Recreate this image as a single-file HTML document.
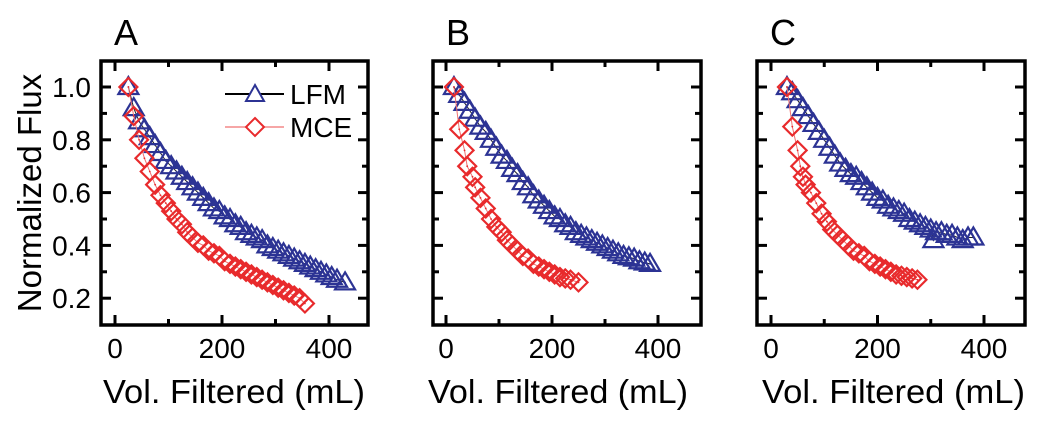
<!DOCTYPE html>
<html><head><meta charset="utf-8"><style>
html,body{margin:0;padding:0;background:#fff;}
svg{display:block;font-family:"Liberation Sans",Arial,sans-serif;}
</style></head><body>
<svg id="chart" width="1059" height="431" viewBox="0 0 1059 431" xmlns="http://www.w3.org/2000/svg">
<text x="0" y="0" transform="translate(41,193) rotate(-90)" text-anchor="middle" font-size="33">Normalized Flux</text>
</svg>
<script>
const xTicks=[0,200,400];
const yTicks=[0.2,0.4,0.6,0.8,1.0];
const yTickLabels=["0.2","0.4","0.6","0.8","1.0"];
const panelLetters=["A","B","C"];
const aLfmX=[25,35,45,55,65,75,85,95,105,115,125,135,145,155,165,175,185,195,205,215,225,235,245,255,265,275,285,295,305,315,325,335,345,355,365,375,385,395,405,415,430];
const aLfmY=[1.0,0.92,0.87,0.84,0.81,0.78,0.75,0.72,0.70,0.68,0.66,0.64,0.62,0.60,0.58,0.56,0.54,0.53,0.51,0.50,0.48,0.47,0.45,0.44,0.43,0.42,0.40,0.39,0.38,0.37,0.36,0.35,0.34,0.33,0.32,0.31,0.30,0.29,0.28,0.27,0.26];
const aMceX=[25,35,45,55,65,75,85,95,105,115,125,135,145,155,165,175,185,195,205,215,225,235,245,255,265,275,285,295,305,315,325,335,345,355];
const aMceY=[1.0,0.89,0.80,0.73,0.68,0.63,0.59,0.56,0.53,0.50,0.48,0.45,0.43,0.41,0.40,0.38,0.37,0.36,0.34,0.33,0.32,0.31,0.30,0.29,0.28,0.27,0.26,0.25,0.24,0.23,0.22,0.21,0.20,0.18];
const bLfmX=[15,25,35,45,55,65,75,85,95,105,115,125,135,145,155,165,175,185,195,205,215,225,235,245,255,265,275,285,295,305,315,325,335,345,355,365,375,385];
const bLfmY=[1.0,0.97,0.94,0.91,0.88,0.85,0.83,0.80,0.77,0.74,0.72,0.69,0.67,0.64,0.62,0.59,0.57,0.55,0.53,0.51,0.50,0.48,0.47,0.45,0.44,0.43,0.42,0.41,0.40,0.39,0.38,0.37,0.36,0.355,0.35,0.34,0.335,0.33];
const bMceX=[15,25,35,40,50,55,65,75,85,95,105,115,125,135,145,155,165,175,185,195,205,215,225,235,250];
const bMceY=[1.0,0.84,0.76,0.70,0.66,0.62,0.58,0.54,0.50,0.47,0.45,0.42,0.40,0.38,0.36,0.35,0.33,0.32,0.31,0.30,0.29,0.28,0.275,0.27,0.26];
const cLfmX=[30,40,50,60,70,80,90,100,110,120,130,140,150,160,170,180,190,200,210,220,230,240,250,260,270,280,290,300,305,310,320,330,340,350,360,370,380];
const cLfmY=[1.0,0.98,0.95,0.92,0.89,0.86,0.83,0.80,0.77,0.74,0.71,0.69,0.67,0.66,0.64,0.62,0.60,0.58,0.57,0.55,0.54,0.53,0.52,0.50,0.49,0.48,0.47,0.46,0.42,0.45,0.45,0.44,0.44,0.43,0.42,0.43,0.43];
const cMceX=[30,40,50,55,60,65,75,85,95,105,115,125,135,145,155,165,175,185,195,205,215,225,235,245,255,265,275];
const cMceY=[1.0,0.85,0.76,0.70,0.66,0.63,0.60,0.56,0.52,0.49,0.46,0.44,0.42,0.40,0.38,0.37,0.36,0.34,0.33,0.32,0.31,0.30,0.29,0.285,0.28,0.275,0.27];

const NS="http://www.w3.org/2000/svg";
const svg=document.getElementById('chart');
function mk(tag,attrs,parent){const e=document.createElementNS(NS,tag);for(const k in attrs)e.setAttribute(k,attrs[k]);(parent||svg).appendChild(e);return e;}
const BLUE="#2c3394",RED="#e82a2c";
const panels=[
 {L:101,R:368,x0:115,x400:329,tx0:103,tw:262,lfm:[aLfmX,aLfmY],mce:[aMceX,aMceY],key:'a'},
 {L:433,R:701,x0:446,x400:658,tx0:428,tw:260,lfm:[bLfmX,bLfmY],mce:[bMceX,bMceY],key:'b'},
 {L:757,R:1025,x0:771,x400:984,tx0:762,tw:263,lfm:[cLfmX,cLfmY],mce:[cMceX,cMceY],key:'c'}
];
const T=61,B=325;
function yS(v){return 87+(1.0-v)*264;}
panels.forEach((p,pi)=>{
  const g=mk('g',{});
  
  
  const xS=v=>p.x0+v*(p.x400-p.x0)/400;
  const letter=mk('text',{x:p.L+13,y:45,'font-size':36},g);
  letter.textContent=panelLetters[pi];
  
  
  for(let v=0;v<=450;v+=100){
    const x=xS(v),len=(v%200===0)?10:6;
    const t1=mk('line',{x1:x,x2:x,y1:B,y2:B-len,stroke:'#000','stroke-width':3},g);
    
    
    mk('line',{x1:x,x2:x,y1:T,y2:T+len,stroke:'#000','stroke-width':3},g);
  }
  for(let i=2;i<=10;i++){
    const y=yS(i/10),len=(i%2===0)?10:6;
    const t2=mk('line',{x1:p.L,x2:p.L+len,y1:y,y2:y,stroke:'#000','stroke-width':3},g);
    
    
    mk('line',{x1:p.R,x2:p.R-len,y1:y,y2:y,stroke:'#000','stroke-width':3},g);
  }
  xTicks.forEach(v=>{
    const t=mk('text',{x:xS(v),y:358,'text-anchor':'middle','font-size':28},g);
    t.textContent=v;
    
    
  });
  if(pi===0){
    yTicks.forEach((v,i)=>{
      const t=mk('text',{x:p.L-10,y:yS(v)+10,'text-anchor':'end','font-size':28},g);
      t.textContent=yTickLabels[i];
      
      
    });
  }
  const xt=mk('text',{x:p.tx0,y:403,'font-size':33,textLength:p.tw,lengthAdjust:'spacingAndGlyphs'},g);
  xt.textContent='Vol. Filtered (mL)';
  
  
  const drawSeries=(xs,ys,color,lineColor,shape,name)=>{
    const sg=mk('g',{},g);
    
    
    const pts=xs.map((x,i)=>xS(x)+','+yS(ys[i])).join(' ');
    mk('polyline',{points:pts,fill:'none',stroke:lineColor,'stroke-width':1},sg);
    xs.forEach((x,i)=>{
      const cx=xS(x),cy=yS(ys[i]);
      let m;
      if(shape==='tri'){
        m=mk('polygon',{points:`${cx},${cy-10} ${cx+10},${cy+7} ${cx-10},${cy+7}`,fill:'none',stroke:color,'stroke-width':2.2},sg);
      }else{
        m=mk('polygon',{points:`${cx},${cy-9} ${cx+9},${cy} ${cx},${cy+9} ${cx-9},${cy}`,fill:'none',stroke:color,'stroke-width':2.2},sg);
      }
      
      
      mk('circle',{cx:cx,cy:cy,r:0.9,fill:color},sg);
    });
  };
  drawSeries(p.lfm[0],p.lfm[1],BLUE,'#222','tri','series-lfm-'+p.key);
  drawSeries(p.mce[0],p.mce[1],RED,'#f07070','dia','series-mce-'+p.key);
  const fr=mk('rect',{x:p.L,y:T,width:p.R-p.L,height:B-T,fill:'none',stroke:'#000','stroke-width':3.5},g);
  
  
  if(pi===0){
    const lg=mk('g',{},g);
    
    
    const e1=mk('g',{},lg);
    
    
    mk('line',{x1:225,x2:284,y1:94,y2:94,stroke:'#000','stroke-width':2},e1);
    mk('polygon',{points:'255,85 264,101 246,101',fill:'#fff',stroke:BLUE,'stroke-width':2},e1);
    const t1=mk('text',{x:290,y:104,'font-size':28},e1);t1.textContent='LFM';
    const e2=mk('g',{},lg);
    
    
    mk('line',{x1:225,x2:284,y1:127,y2:127,stroke:'#f07070','stroke-width':1.2},e2);
    mk('polygon',{points:'255,118 264,127 255,136 246,127',fill:'#fff',stroke:RED,'stroke-width':2},e2);
    const t2=mk('text',{x:290,y:137,'font-size':28},e2);t2.textContent='MCE';
  }
});
</script>
</body></html>
